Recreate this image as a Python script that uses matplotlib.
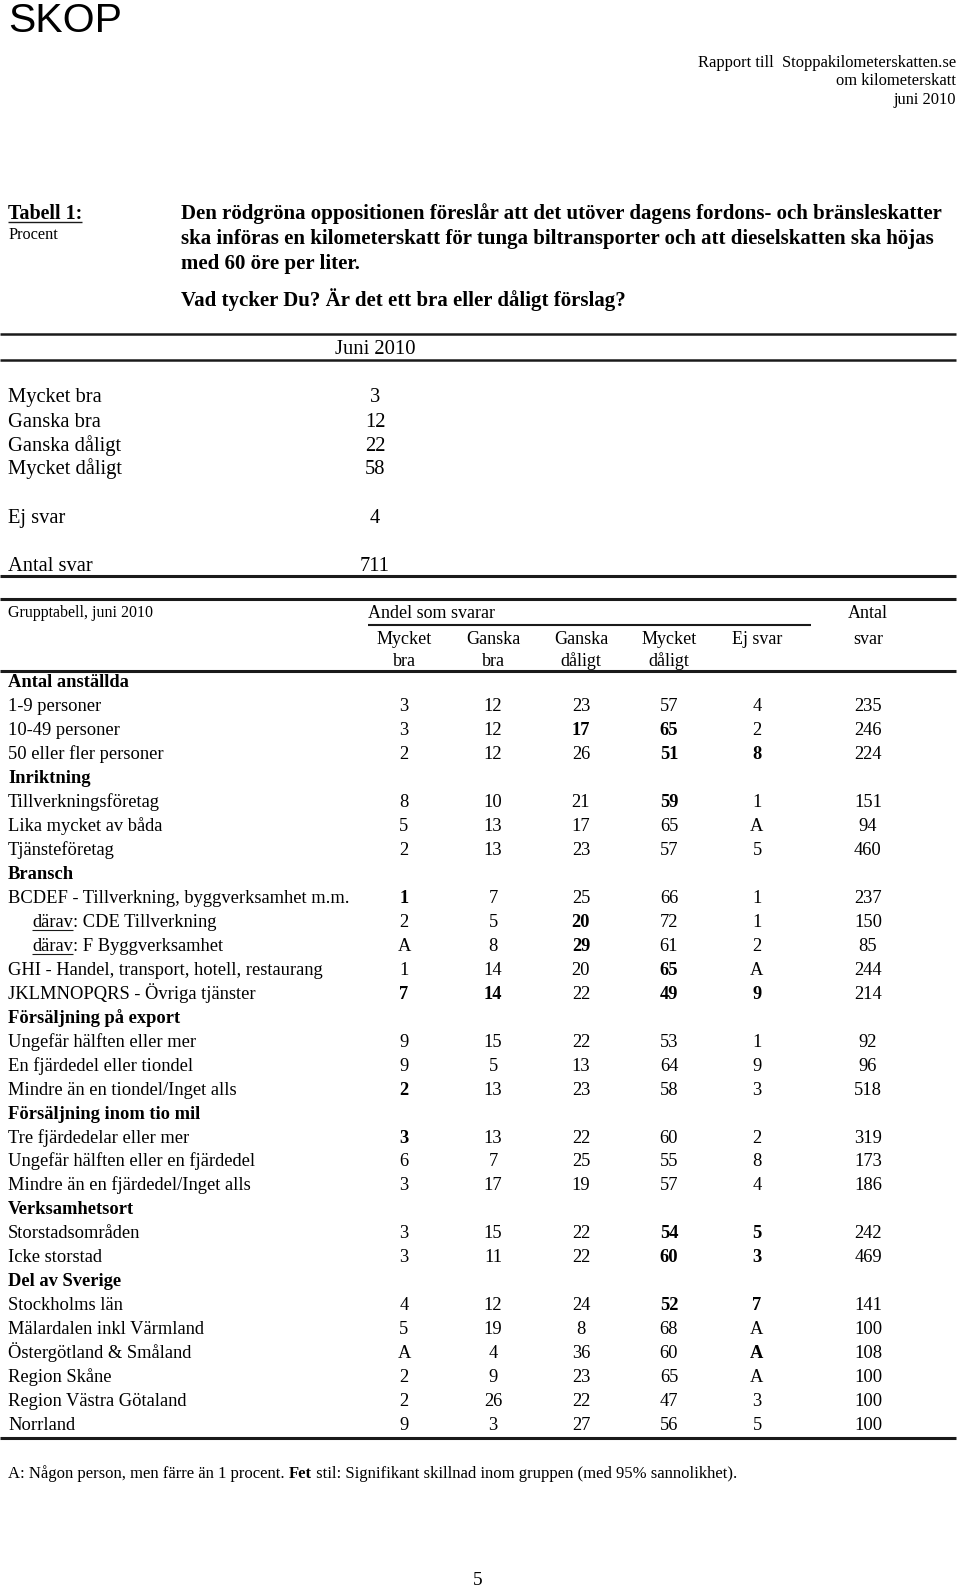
import matplotlib
matplotlib.use("Agg")
import matplotlib.pyplot as plt

# ---------------- data ----------------
header_right = ["Rapport till  Stoppakilometerskatten.se", "om kilometerskatt", "juni 2010"]
question_lines = ["Den rödgröna oppositionen föreslår att det utöver dagens fordons- och bränsleskatter",
                  "ska införas en kilometerskatt för tunga biltransporter och att dieselskatten ska höjas",
                  "med 60 öre per liter."]
question2 = "Vad tycker Du? Är det ett bra eller dåligt förslag?"

summary_labels = ["Mycket bra", "Ganska bra", "Ganska dåligt", "Mycket dåligt", "Ej svar", "Antal svar"]
summary_values = ["3", "12", "22", "58", "4", "711"]
summary_period = "Juni 2010"

col_headers = [("Mycket", "bra"), ("Ganska", "bra"), ("Ganska", "dåligt"),
               ("Mycket", "dåligt"), ("Ej svar", ""), ("Antal", "svar")]

section_names = ["Antal anställda", "Inriktning", "Bransch", "Försäljning på export",
                 "Försäljning inom tio mil", "Verksamhetsort", "Del av Sverige"]
section_sizes = [3, 3, 5, 3, 3, 2, 6]

row_labels = ["1-9 personer", "10-49 personer", "50 eller fler personer",
              "Tillverkningsföretag", "Lika mycket av båda", "Tjänsteföretag",
              "BCDEF - Tillverkning, byggverksamhet m.m.", "därav: CDE Tillverkning",
              "därav: F Byggverksamhet", "GHI - Handel, transport, hotell, restaurang",
              "JKLMNOPQRS - Övriga tjänster",
              "Ungefär hälften eller mer", "En fjärdedel eller tiondel", "Mindre än en tiondel/Inget alls",
              "Tre fjärdedelar eller mer", "Ungefär hälften eller en fjärdedel", "Mindre än en fjärdedel/Inget alls",
              "Storstadsområden", "Icke storstad",
              "Stockholms län", "Mälardalen inkl Värmland", "Östergötland & Småland",
              "Region Skåne", "Region Västra Götaland", "Norrland"]

mycket_bra    = ["3", "3", "2", "8", "5", "2", "1", "2", "A", "1", "7", "9", "9", "2", "3", "6", "3", "3", "3", "4", "5", "A", "2", "2", "9"]
ganska_bra    = ["12", "12", "12", "10", "13", "13", "7", "5", "8", "14", "14", "15", "5", "13", "13", "7", "17", "15", "11", "12", "19", "4", "9", "26", "3"]
ganska_daligt = ["23", "17", "26", "21", "17", "23", "25", "20", "29", "20", "22", "22", "13", "23", "22", "25", "19", "22", "22", "24", "8", "36", "23", "22", "27"]
mycket_daligt = ["57", "65", "51", "59", "65", "57", "66", "72", "61", "65", "49", "53", "64", "58", "60", "55", "57", "54", "60", "52", "68", "60", "65", "47", "56"]
ej_svar       = ["4", "2", "8", "1", "A", "5", "1", "1", "2", "A", "9", "1", "9", "3", "2", "8", "4", "5", "3", "7", "A", "A", "A", "3", "5"]
antal_svar    = ["235", "246", "224", "151", "94", "460", "237", "150", "85", "244", "214", "92", "96", "518", "319", "173", "186", "242", "469", "141", "100", "108", "100", "100", "100"]
# significant (bold) cells: column indices 0-4 per row
bold_cols     = ["", "23", "34", "3", "", "", "0", "2", "2", "3", "0134", "", "", "0", "0", "", "", "34", "34", "34", "", "4", "", "", ""]

footnote_parts = [("A: Någon person, men färre än 1 procent. ", "normal"), ("Fet", "bold"),
                  (" stil: Signifikant skillnad inom gruppen (med 95% sannolikhet).", "normal")]

# ---------------- drawing ----------------
W, H = 960, 1589
fig = plt.figure(figsize=(W / 100, H / 100), dpi=100)
ax = fig.add_axes([0, 0, 1, 1])
ax.set_xlim(0, W)
ax.set_ylim(H, 0)
ax.axis("off")
fig.canvas.draw()
renderer = fig.canvas.get_renderer()

SERIF = ["Liberation Serif", "DejaVu Serif"]
SANS = ["Liberation Sans", "DejaVu Sans"]


def put(x, yc, txt, size, weight="normal", ha="left", family=SERIF):
    em = size * 100 / 72
    return ax.text(x, yc + 0.33 * em, txt, fontsize=size, fontweight=weight, ha=ha,
                   va="baseline", family=family, color="black")


def width_of(t):
    return t.get_window_extent(renderer).width


def fit(txt, target, weight="normal", family=SERIF):
    t = ax.text(0, 0, txt, fontsize=12, fontweight=weight, family=family)
    w = width_of(t)
    t.remove()
    return 12 * target / w


def hline(y, x0, x1, lw=1.5):
    ax.plot([x0, x1], [y, y], color="#1a1a1a", lw=lw, solid_capstyle="butt")


# page header
put(8, 18, "SKOP", 29.5, family=SANS)
s_hdr = fit(header_right[0], 258)
for yc, txt in zip([62, 80, 99], header_right):
    put(956, yc, txt, s_hdr, ha="right")

# table title
t = put(8, 212, "Tabell 1:", 14.4, weight="bold")
wt = width_of(t)
hline(222, 8, 8 + wt, lw=1.0)
put(8, 234, "Procent", 11.7)
s_q = fit(question_lines[0], 756, weight="bold")
for yc, txt in zip([212, 237, 262], question_lines):
    put(181, yc, txt, s_q, weight="bold")
put(181, 299, question2, s_q, weight="bold")

# summary table
hline(334, 0, 956, lw=1.8)
put(375, 347, summary_period, 14.9, ha="center")
hline(360, 0, 956, lw=1.8)
sum_y = [395, 420, 444, 467, 516, 564]
for yc, lab, val in zip(sum_y, summary_labels, summary_values):
    put(8, yc, lab, 14.8)
    put(375, yc, val, 14.8, ha="center")
hline(576, 0, 956, lw=2.2)

# group table
FS = 13.3
col_x = [404, 493, 581, 669, 757, 868]
hline(599, 0, 956, lw=2.2)
put(8, 612, "Grupptabell, juni 2010", 11.5)
put(368, 612, "Andel som svarar", 13)
hline(625, 368, 811, lw=1.5)
for cx, (l1, l2) in zip(col_x, col_headers):
    if cx == col_x[-1]:
        put(cx, 612, l1, 13, ha="center")
        put(cx, 638, l2, 13, ha="center")
    else:
        put(cx, 638, l1, 13, ha="center")
        if l2:
            put(cx, 660, l2, 13, ha="center")
hline(671, 0, 956, lw=2.2)

columns = [mycket_bra, ganska_bra, ganska_daligt, mycket_daligt, ej_svar, antal_svar]
y0, dy = 681, 23.97
line_i = 0
r = 0
for name, n in zip(section_names, section_sizes):
    put(8, y0 + line_i * dy, name, FS, weight="bold")
    line_i += 1
    for _ in range(n):
        yc = y0 + line_i * dy
        lab = row_labels[r]
        if lab.startswith("därav"):
            t1 = put(32, yc, "därav", FS)
            w1 = width_of(t1)
            hline(yc + 9.5, 32, 32 + w1, lw=0.8)
            put(32 + w1, yc, lab[len("därav"):], FS)
        else:
            put(8, yc, lab, FS)
        for c, (cx, col) in enumerate(zip(col_x, columns)):
            wgt = "bold" if str(c) in bold_cols[r] else "normal"
            put(cx, yc, col[r], FS, weight=wgt, ha="center")
        r += 1
        line_i += 1
hline(1438, 0, 956, lw=2.2)

# footnote
full_txt = "".join(p for p, _ in footnote_parts)
s_fn = fit(full_txt, 726)
x = 8
for txt, wgt in footnote_parts:
    t = put(x, 1473, txt, s_fn, weight=wgt)
    x += width_of(t)

put(478, 1579, "5", 14, ha="center")

fig.savefig("out.png", dpi=100)
